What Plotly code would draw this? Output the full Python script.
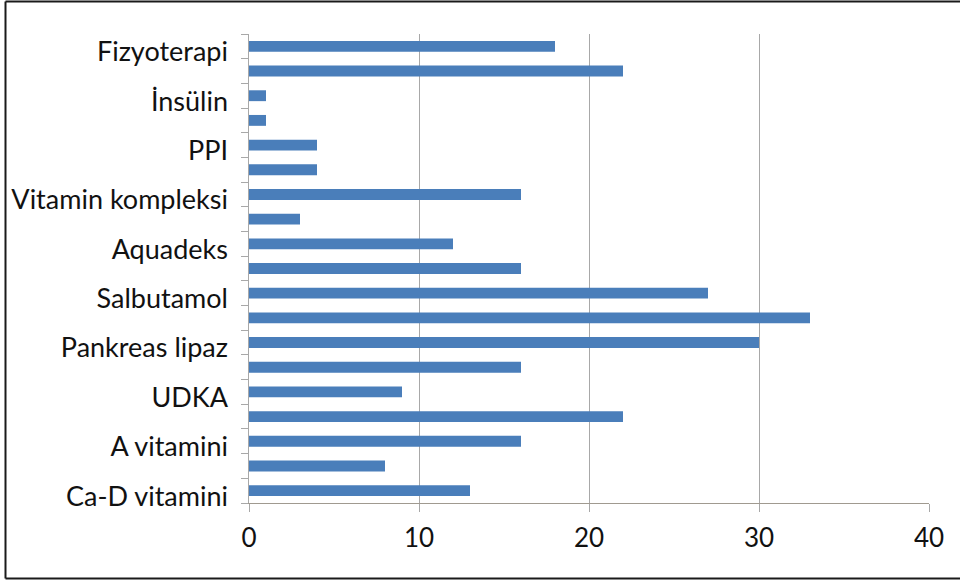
import plotly.graph_objects as go

# Data (top to bottom)
labels = ["Fizyoterapi", "İnsülin", "PPI", "Vitamin kompleksi", "Aquadeks",
          "Salbutamol", "Pankreas lipaz", "UDKA", "A vitamini", "Ca-D vitamini"]
values = [18, 22, 1, 1, 4, 4, 16, 3, 12, 16, 27, 33, 30, 16, 9, 22, 16, 8, 13]
x_ticks = [0, 10, 20, 30, 40]

n = len(values)
positions = list(range(n))
label_positions = [2 * i + 0.22 for i in range(len(labels))]
boundaries = [i - 0.5 for i in range(n + 1)]

FONT = "Lato"
GRID = "#a8a8a8"

fig = go.Figure()
fig.add_trace(go.Bar(
    x=values, y=positions, orientation="h",
    width=0.44, marker=dict(color="#4a7eba", line=dict(width=0)),
    showlegend=False, hoverinfo="x",
))
# invisible trace to activate the label axis
fig.add_trace(go.Scatter(x=[None], y=[None], yaxis="y2", showlegend=False))

fig.update_layout(
    width=960, height=583,
    margin=dict(l=249, r=31, t=34, b=80),
    paper_bgcolor="white", plot_bgcolor="white",
    font=dict(family=FONT, size=27, color="#111111"),
    xaxis=dict(
        range=[0, 40], tickvals=x_ticks, ticktext=[str(v) for v in x_ticks],
        showgrid=True, gridcolor=GRID, gridwidth=1,
        showline=True, linecolor="#a09a90", linewidth=1,
        ticks="outside", ticklen=8, tickcolor=GRID,
        zeroline=False, tickfont=dict(size=26, family=FONT, color="#111111"),
        ticklabelstandoff=4,
    ),
    yaxis=dict(
        range=[n - 0.5, -0.5], tickvals=boundaries, ticktext=[""] * len(boundaries),
        showgrid=False, zeroline=False,
        showline=True, linecolor=GRID, linewidth=1,
        ticks="outside", ticklen=7, tickcolor=GRID,
    ),
    yaxis2=dict(
        range=[n - 0.5, -0.5], overlaying="y", side="left",
        tickvals=label_positions, ticktext=labels,
        showgrid=False, zeroline=False, showline=False, ticks="",
        tickfont=dict(size=27, family=FONT, color="#111111"),
        ticklabelstandoff=20,
    ),
    shapes=[
        dict(type="line", xref="paper", yref="paper",
             x0=(5.5 - 249) / 680, x1=(5.5 - 249) / 680,
             y0=(503 - 578.5) / 469, y1=(503 - 1.5) / 469,
             line=dict(color="#1a1a1a", width=2)),
        dict(type="line", xref="paper", yref="paper",
             x0=(5.5 - 249) / 680, x1=(965 - 249) / 680,
             y0=(503 - 1.5) / 469, y1=(503 - 1.5) / 469,
             line=dict(color="#1a1a1a", width=2)),
        dict(type="line", xref="paper", yref="paper",
             x0=(5.5 - 249) / 680, x1=(965 - 249) / 680,
             y0=(503 - 578.5) / 469, y1=(503 - 578.5) / 469,
             line=dict(color="#1a1a1a", width=2)),
    ],
)

fig.write_html("out.html")
